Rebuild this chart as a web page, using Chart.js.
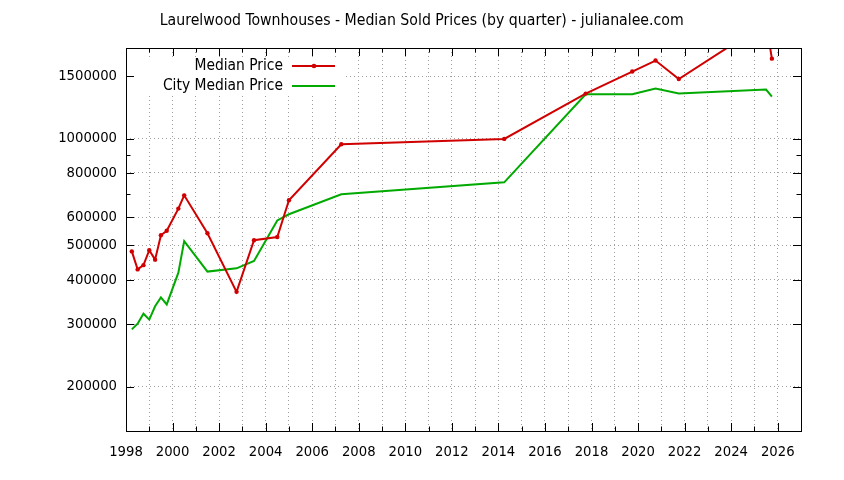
<!DOCTYPE html>
<html>
<head>
<meta charset="utf-8">
<script src="https://cdn.jsdelivr.net/npm/chart.js@4/dist/chart.umd.min.js"></script>
<style>
  html, body { margin: 0; padding: 0; background: #ffffff; }
  #wrap { width: 844px; height: 480px; position: relative; }
</style>
</head>
<body>
<div id="wrap"><canvas id="c" width="844" height="480"></canvas></div>
<script>
// ---- data ----
const chartTitle = 'Laurelwood Townhouses - Median Sold Prices (by quarter) - julianalee.com';
const seriesNames = ['Median Price', 'City Median Price'];
const quarters = [1998.25, 1998.5, 1998.75, 1999.0, 1999.25, 1999.5, 1999.75, 2000.25, 2000.5, 2001.5,
                  2002.75, 2003.5, 2004.5, 2005.0, 2007.25, 2014.25, 2017.75, 2019.75, 2020.75, 2021.75,
                  2025.5, 2025.75];
const medianPrice = [481000, 428000, 440000, 485000, 456000, 534000, 550000, 635000, 692000, 541000,
                     370000, 517000, 528000, 670000, 964000, 998000, 1339000, 1545000, 1659000, 1472000,
                     2120000, 1680000];
const cityMedianPrice = [290000, 301000, 321000, 309000, 337000, 357000, 341000, 419000, 514000, 422000,
                         431000, 452000, 588000, 612000, 697000, 753000, 1333000, 1333000, 1383000, 1339000,
                         1374000, 1313000];
const xTickYears = [1998, 1999, 2000, 2001, 2002, 2003, 2004, 2005, 2006, 2007, 2008, 2009, 2010, 2011, 2012,
                    2013, 2014, 2015, 2016, 2017, 2018, 2019, 2020, 2021, 2022, 2023, 2024, 2025, 2026, 2027];
const xLabelYears = [1998, 2000, 2002, 2004, 2006, 2008, 2010, 2012, 2014, 2016, 2018, 2020, 2022, 2024, 2026];
const yTickLabels = [200000, 300000, 400000, 500000, 600000, 800000, 1000000, 1500000];
const yMinorTicks = [700000, 900000];

// ---- font choice ----
const mctx = document.createElement('canvas').getContext('2d');
function hasFont(name) {
  const s = 'Laurelwood 1234567890';
  mctx.font = '40px monospace'; const a = mctx.measureText(s).width;
  mctx.font = "40px '" + name + "', monospace"; const b = mctx.measureText(s).width;
  return a !== b;
}
const FAMILY = hasFont('DejaVu Sans Condensed')
  ? "'DejaVu Sans Condensed', 'DejaVu Sans', sans-serif"
  : "'DejaVu Sans', sans-serif";
function fitSize(text, target) {
  mctx.font = '100px ' + FAMILY;
  return Math.round(100 * target / mctx.measureText(text).width * 10) / 10;
}
const TITLE_SIZE = fitSize(chartTitle, 525);
const KEY_SIZE = fitSize(seriesNames[1], 120);
const TICK_SIZE = fitSize('1000000', 59);

const RED = '#d00000';
const GREEN = '#00aa00';
const GRID = '#a0a0a0';

const overlay = {
  id: 'overlay',
  beforeDatasetsDraw(chart) {
    const ctx = chart.ctx;
    const a = chart.chartArea;
    ctx.save();
    // opaque key box
    ctx.fillStyle = '#ffffff';
    ctx.fillRect(a.left + 1, 57, 344 - a.left - 1, 37);
    // key entries
    ctx.font = KEY_SIZE + 'px ' + FAMILY;
    ctx.textAlign = 'right';
    ctx.textBaseline = 'middle';
    const rows = [[seriesNames[0], RED, true, 66], [seriesNames[1], GREEN, false, 86]];
    rows.forEach(r => {
      ctx.fillStyle = '#000';
      ctx.fillText(r[0], 283, r[3]);
      ctx.strokeStyle = r[1];
      ctx.lineWidth = 2;
      ctx.beginPath(); ctx.moveTo(292, r[3]); ctx.lineTo(335, r[3]); ctx.stroke();
      if (r[2]) {
        ctx.fillStyle = r[1];
        ctx.beginPath(); ctx.arc(314, r[3], 2.3, 0, Math.PI * 2); ctx.fill();
      }
    });
    ctx.restore();
  },
  afterDatasetsDraw(chart) {
    const ctx = chart.ctx;
    const a = chart.chartArea;
    const xs = chart.scales.x, ys = chart.scales.y;
    ctx.save();
    ctx.strokeStyle = '#000';
    ctx.lineWidth = 1;
    ctx.beginPath();
    xTickYears.forEach(v => {
      if (v <= xs.min || v >= xs.max) return;
      const p = Math.round(xs.getPixelForValue(v)) + 0.5;
      const len = (xLabelYears.indexOf(v) >= 0) ? 8 : 4.5;
      ctx.moveTo(p, a.bottom); ctx.lineTo(p, a.bottom - len);
      ctx.moveTo(p, a.top); ctx.lineTo(p, a.top + len);
    });
    yTickLabels.concat(yMinorTicks).forEach(v => {
      const p = Math.round(ys.getPixelForValue(v)) + 0.5;
      const len = (yTickLabels.indexOf(v) >= 0) ? 8 : 4.5;
      ctx.moveTo(a.left, p); ctx.lineTo(a.left + len, p);
      ctx.moveTo(a.right, p); ctx.lineTo(a.right - len, p);
    });
    ctx.stroke();
    ctx.strokeRect(a.left + 0.5, a.top + 0.5, a.right - a.left, a.bottom - a.top);
    // title
    ctx.font = TITLE_SIZE + 'px ' + FAMILY;
    ctx.fillStyle = '#000';
    ctx.textAlign = 'center';
    ctx.textBaseline = 'alphabetic';
    ctx.fillText(chartTitle, 421.7, 25);
    ctx.restore();
  }
};

new Chart(document.getElementById('c'), {
  type: 'line',
  data: {
    datasets: [
      {
        label: seriesNames[0],
        data: quarters.map((q, i) => ({ x: q, y: medianPrice[i] })),
        borderColor: RED,
        backgroundColor: RED,
        borderWidth: 2,
        pointRadius: 2.2,
        pointHoverRadius: 2.2,
        pointBorderWidth: 0,
        tension: 0,
        clip: 0
      },
      {
        label: seriesNames[1],
        data: quarters.map((q, i) => ({ x: q, y: cityMedianPrice[i] })),
        borderColor: GREEN,
        backgroundColor: GREEN,
        borderWidth: 2,
        pointRadius: 0,
        pointHoverRadius: 0,
        tension: 0,
        clip: 0
      }
    ]
  },
  options: {
    responsive: false,
    animation: false,
    devicePixelRatio: 1,
    layout: { padding: { top: 48, right: 43, left: 0, bottom: 0 } },
    plugins: { legend: { display: false }, title: { display: false }, tooltip: { enabled: false } },
    scales: {
      x: {
        type: 'linear',
        min: 1998,
        max: 2027,
        afterBuildTicks: s => { s.ticks = xTickYears.map(v => ({ value: v })); },
        afterFit: s => { s.height = 49; },
        ticks: {
          autoSkip: false,
          maxRotation: 0,
          padding: 12,
          color: '#000',
          font: { family: FAMILY, size: TICK_SIZE },
          callback: v => (xLabelYears.indexOf(v) >= 0 ? String(v) : '')
        },
        grid: {
          drawTicks: false,
          lineWidth: 1,
          color: c => (c.tick && c.tick.value > 1998 && c.tick.value < 2027) ? GRID : 'rgba(0,0,0,0)'
        },
        border: { display: false, dash: [1, 3] }
      },
      y: {
        type: 'logarithmic',
        min: 150000,
        max: 1800000,
        afterBuildTicks: s => { s.ticks = yTickLabels.concat(yMinorTicks).sort((a, b) => a - b).map(v => ({ value: v })); },
        afterFit: s => { s.width = 126; },
        ticks: {
          autoSkip: false,
          padding: 9,
          color: '#000',
          font: { family: FAMILY, size: TICK_SIZE },
          callback: v => (yTickLabels.indexOf(v) >= 0 ? String(v) : '')
        },
        grid: {
          drawTicks: false,
          lineWidth: 1,
          color: c => (c.tick && yTickLabels.indexOf(c.tick.value) >= 0) ? GRID : 'rgba(0,0,0,0)'
        },
        border: { display: false, dash: [1, 3] }
      }
    }
  },
  plugins: [overlay]
});
</script>
</body>
</html>
